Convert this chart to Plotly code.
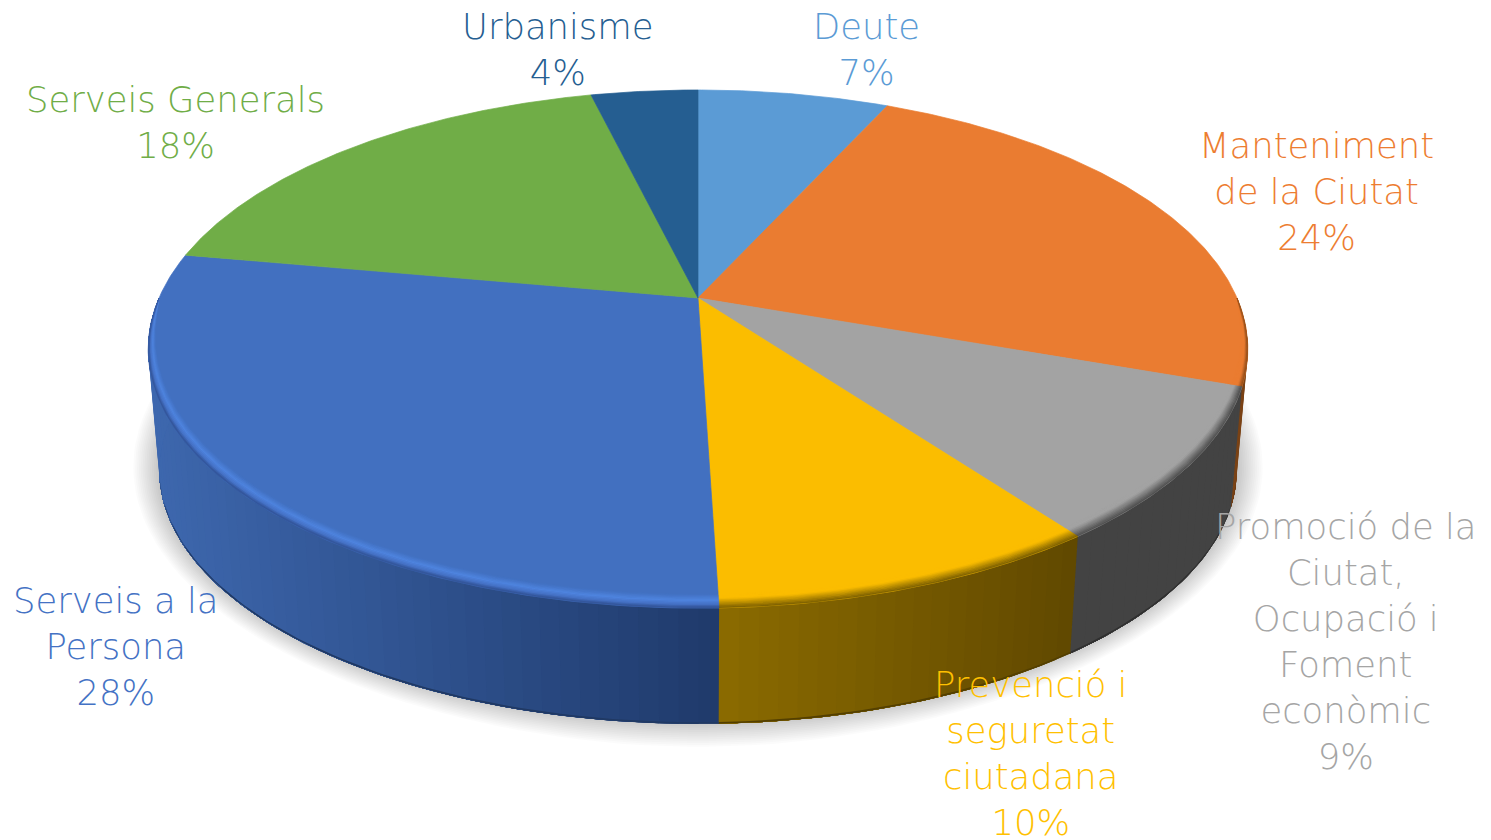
import math
import plotly.graph_objects as go

# ---- data ----
categories = ["Deute", "Manteniment<br>de la Ciutat", "Promoció de la<br>Ciutat,<br>Ocupació i<br>Foment<br>econòmic",
              "Prevenció i<br>seguretat<br>ciutadana", "Serveis a la<br>Persona", "Serveis Generals", "Urbanisme"]
values = [6.8, 23.6, 9.5, 9.6, 28.35, 18.35, 3.8]
percent_labels = ["7%", "24%", "9%", "10%", "28%", "18%", "4%"]
colors = ["#5B9BD5", "#EA7C31", "#A3A3A3", "#FBBD00", "#4270C0", "#70AD47", "#255E91"]
label_colors = ["#5B9BD5", "#ED7D31", "#A5A5A5", "#FFC000", "#4472C4", "#70AD47", "#255E91"]

# ---- view (projection of the disc on the page) ----
CX, CY = 698.0, 298.0
A, B, K = 539.0, 249.0, 0.197
DROP, SHRINK = 122.0, 0.02
BEVEL = 0.036
label_pos = [(866, 49), (1316, 191), (1345, 641), (1030, 753), (115, 646), (175, 122), (558, 49)]
wall_near = {1: "#7A4215", 2: "#434343", 3: "#8B6B00", 4: "#3E68AF"}
wall_far = {1: "#7A4215", 2: "#434343", 3: "#604800", 4: "#1F3A6B"}


def rgb(h):
    return tuple(int(h[i:i + 2], 16) for i in (1, 3, 5))


def mix(c1, c2, t):
    a, b = rgb(c1), rgb(c2)
    return "#%02x%02x%02x" % tuple(round(a[i] + (b[i] - a[i]) * t) for i in range(3))


def top(th, r=1.0):
    s, c = math.sin(th), math.cos(th)
    w = 1 + K * r * c
    return CX + A * r * s / w, CY - B * r * c / w


def wall(th, t=1.0):
    x, y = top(th)
    sc = 1 - SHRINK * t
    return CX + (x - CX) * sc, CY + (y - CY) * sc + DROP * t


def arc(a0, a1, step=0.01):
    n = max(2, int(abs(a1 - a0) / step))
    return [a0 + (a1 - a0) * i / n for i in range(n + 1)]


fig = go.Figure()


def poly(pts, color, lw=0.7):
    xs = [p[0] for p in pts] + [pts[0][0]]
    ys = [p[1] for p in pts] + [pts[0][1]]
    fig.add_trace(go.Scatter(x=xs, y=ys, mode="lines", fill="toself", fillcolor=color,
                             line=dict(color=color, width=lw), hoverinfo="skip", showlegend=False))


total = sum(values)
edges = [0.0]
for v in values:
    edges.append(edges[-1] + v / total * 2 * math.pi)

# soft shadow under the disc
for i in range(14):
    g = 26 * (1 - i / 14)
    pts = []
    for th in arc(0, 2 * math.pi, 0.03):
        x, y = wall(th)
        ex, ey = CX, CY + 170
        d = math.hypot(x - ex, y - ey)
        pts.append((x + (x - ex) / d * g, y + (y - ey) / d * g - 3))
    poly(pts, "rgba(0,0,0,0.016)", lw=0)

# side walls: each strip overlaps the next one, so that no seam shows
X_NEAR = {1: 1248, 2: 1240, 3: 718, 4: 150}
X_FAR = {1: 1230, 2: 1070, 3: 1075, 4: 718}
for i in (1, 2, 3, 4):
    a0 = max(edges[i], math.pi / 2)
    a1 = min(edges[i + 1], 1.5 * math.pi)
    ths = arc(a0, a1, 0.03)
    for t0, t1 in zip(ths, ths[1:]):
        xm = wall((t0 + t1) / 2)[0]
        f = min(1, max(0, (xm - X_NEAR[i]) / (X_FAR[i] - X_NEAR[i])))
        span = arc(t0, a1, 0.02)
        poly([top(t) for t in span] + [wall(t) for t in reversed(span)],
             mix(wall_near[i], wall_far[i], f), lw=0)
    b0 = max(a0, math.radians(104))
    b1 = min(a1, math.radians(256))
    if b1 > b0:
        span = arc(b0, b1, 0.02)
        poly([wall(t, 0.985) for t in span] + [wall(t) for t in reversed(span)],
             mix(mix(wall_near[i], wall_far[i], 0.5), "#000000", 0.3), lw=0)

# top faces
for i, col in enumerate(colors):
    pts = [(CX, CY)] + [top(t) for t in arc(edges[i], edges[i + 1], 0.008)]
    poly(pts, col)

# bevel along the front rim
profiles = {
    1: [(0, "#EA7C31"), (0.6, "#EA7C31"), (1, "#8A4A18")],
    2: [(0, "#A3A3A3"), (0.3, "#A3A3A3"), (1, "#4C4C4C")],
    3: [(0, "#FBBD00"), (0.3, "#FBBD00"), (1, "#7A5E00")],
    4: [(0, "#4270C0"), (0.45, "#4F84DF"), (0.75, "#4672C6"), (1, "#2F5092")],
}


def prof(i, t):
    p = profiles[i]
    for (t0, c0), (t1, c1) in zip(p, p[1:]):
        if t <= t1:
            return mix(c0, c1, (t - t0) / (t1 - t0))
    return p[-1][1]


def rad(t, jj, n):
    f = max(0.0, -math.cos(t)) ** 0.6
    return 1 - BEVEL * f * (1 - jj / n)


N = 10
for i in (1, 2, 3, 4):
    a0 = max(edges[i], math.pi / 2)
    a1 = min(edges[i + 1], 1.5 * math.pi)
    ths = arc(a0, a1, 0.008)
    for j in range(N):
        pts = [top(t, rad(t, j, N)) for t in ths] + [top(t, rad(t, j + 1, N)) for t in reversed(ths)]
        poly(pts, prof(i, (j + 0.5) / N), lw=0.5)

# labels
for name, pct, col, (lx, ly) in zip(categories, percent_labels, label_colors, label_pos):
    fig.add_annotation(x=lx, y=ly, xref="x", yref="y", text=name + "<br>" + pct, showarrow=False,
                       align="center", xanchor="center", yanchor="middle",
                       font=dict(family="DejaVu Sans", size=35.4, color=col, weight=200))

fig.update_layout(width=1491, height=840, margin=dict(l=0, r=0, t=0, b=0), autosize=False,
                  paper_bgcolor="white", plot_bgcolor="white", showlegend=False,
                  xaxis=dict(range=[0, 1491], visible=False, fixedrange=True),
                  yaxis=dict(range=[840, 0], visible=False, fixedrange=True))
fig.write_html("out.html", post_script="document.body.style.margin='0';",
               config={"displayModeBar": False})
